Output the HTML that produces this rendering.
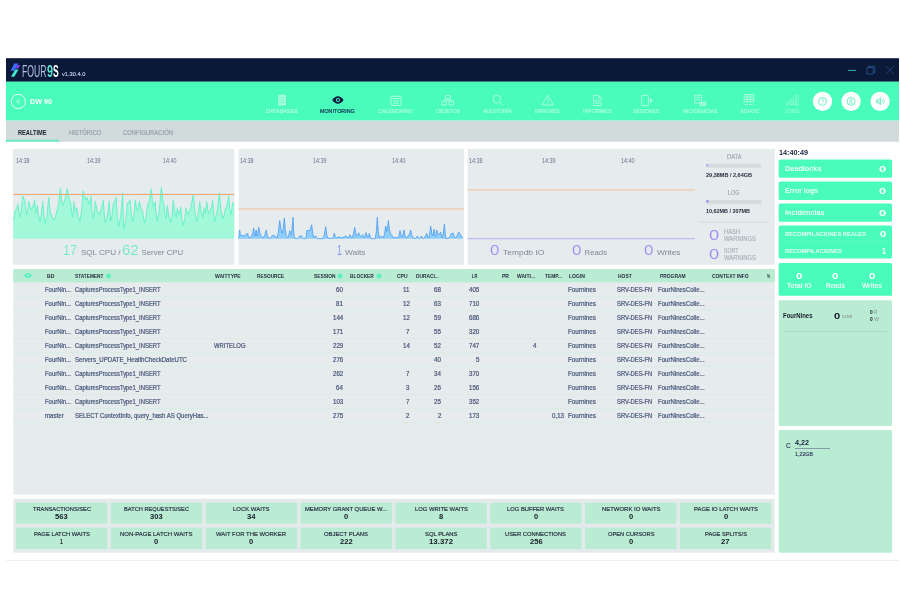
<!DOCTYPE html>
<html lang="es"><head><meta charset="utf-8"><title>FOUR9S - Monitoring</title>
<style>
html,body{margin:0;padding:0;background:#fff;}
body{width:900px;height:600px;overflow:hidden;position:relative;font-family:"Liberation Sans",sans-serif;}
.b{position:absolute;}
.t{position:absolute;white-space:nowrap;line-height:1;transform-origin:0 0;display:block;}
svg{position:absolute;left:0;top:0;overflow:visible;}
#app{position:absolute;left:0;top:0;width:900px;height:600px;filter:blur(0.45px);}
</style></head><body><div id="app">
<svg width="900" height="600" viewBox="0 0 900 600">
<rect x="6" y="560.1" width="893" height="1.0" fill="#eceeef"/>
<rect x="6" y="58.2" width="893" height="23.6" fill="#0b1939"/>
<rect x="6" y="81.7" width="893" height="39.0" fill="#4afcbb"/>
<rect x="6" y="120.6" width="893" height="21.2" fill="#d1dbdc"/>
<rect x="6" y="139.7" width="53" height="2.1" fill="#6feac2"/>
<rect x="13" y="149" width="221.4" height="115.8" fill="#e6ecee"/>
<rect x="238.6" y="149" width="225.4" height="115.8" fill="#e6ecee"/>
<rect x="467.6" y="149" width="307.2" height="115.8" fill="#e6ecee"/>
<rect x="13.3" y="269" width="761.5" height="225.6" fill="#e6ecee"/>
<rect x="13.3" y="269" width="761.5" height="13.3" fill="#baebd3"/>
<rect x="13.3" y="295.9" width="761.5" height="0.8" fill="#d3ede3"/>
<rect x="13.3" y="309.9" width="761.5" height="0.8" fill="#d3ede3"/>
<rect x="13.3" y="323.9" width="761.5" height="0.8" fill="#d3ede3"/>
<rect x="13.3" y="337.9" width="761.5" height="0.8" fill="#d3ede3"/>
<rect x="13.3" y="351.9" width="761.5" height="0.8" fill="#d3ede3"/>
<rect x="13.3" y="365.9" width="761.5" height="0.8" fill="#d3ede3"/>
<rect x="13.3" y="379.9" width="761.5" height="0.8" fill="#d3ede3"/>
<rect x="13.3" y="393.9" width="761.5" height="0.8" fill="#d3ede3"/>
<rect x="13.3" y="407.9" width="761.5" height="0.8" fill="#d3ede3"/>
<rect x="13.3" y="421.9" width="761.5" height="0.8" fill="#d3ede3"/>
<rect x="13.5" y="498.7" width="761.3" height="53.9" fill="#e4eaec"/>
<rect x="16.0" y="502.7" width="91.3" height="21.0" fill="#baebd3"/>
<rect x="110.86" y="502.7" width="91.3" height="21.0" fill="#baebd3"/>
<rect x="205.72" y="502.7" width="91.3" height="21.0" fill="#baebd3"/>
<rect x="300.58" y="502.7" width="91.3" height="21.0" fill="#baebd3"/>
<rect x="395.44" y="502.7" width="91.3" height="21.0" fill="#baebd3"/>
<rect x="490.3" y="502.7" width="91.3" height="21.0" fill="#baebd3"/>
<rect x="585.16" y="502.7" width="91.3" height="21.0" fill="#baebd3"/>
<rect x="680.02" y="502.7" width="91.3" height="21.0" fill="#baebd3"/>
<rect x="16.0" y="527.7" width="91.3" height="21.3" fill="#baebd3"/>
<rect x="110.86" y="527.7" width="91.3" height="21.3" fill="#baebd3"/>
<rect x="205.72" y="527.7" width="91.3" height="21.3" fill="#baebd3"/>
<rect x="300.58" y="527.7" width="91.3" height="21.3" fill="#baebd3"/>
<rect x="395.44" y="527.7" width="91.3" height="21.3" fill="#baebd3"/>
<rect x="490.3" y="527.7" width="91.3" height="21.3" fill="#baebd3"/>
<rect x="585.16" y="527.7" width="91.3" height="21.3" fill="#baebd3"/>
<rect x="680.02" y="527.7" width="91.3" height="21.3" fill="#baebd3"/>
<rect x="778.7" y="159.5" width="113.3" height="18.3" rx="1.5" fill="#4afcbb"/>
<rect x="778.7" y="181.6" width="113.3" height="18.4" rx="1.5" fill="#4afcbb"/>
<rect x="778.7" y="203.6" width="113.3" height="18.1" rx="1.5" fill="#4afcbb"/>
<rect x="778.7" y="225.4" width="113.3" height="33.2" rx="1.5" fill="#4afcbb"/>
<rect x="778.7" y="263" width="113.3" height="32.8" rx="1.5" fill="#4afcbb"/>
<rect x="778.7" y="300.2" width="113.3" height="125.9" rx="1.5" fill="#baebd3"/>
<rect x="778.7" y="430.1" width="113.4" height="122.6" rx="1.5" fill="#baebd3"/>
</svg>
<svg width="900" height="600" viewBox="0 0 900 600"><polygon points="13.2,238.7 13.2,220.0 14.3,217.0 15.3,210.7 16.7,208.5 18.0,204.0 19.0,213.1 20.0,217.3 21.3,210.5 22.7,196.0 23.7,198.7 24.7,200.0 25.7,210.0 26.7,214.7 27.7,210.4 28.7,201.3 30.0,206.8 31.3,209.3 32.0,208.5 32.7,206.7 33.7,204.5 34.7,200.0 35.3,209.1 36.0,213.3 36.7,210.8 37.3,205.3 38.7,216.2 40.0,221.3 41.3,214.9 42.7,201.3 44.0,216.7 45.3,224.0 47.0,215.5 48.7,197.3 49.7,208.2 50.7,213.3 52.3,217.9 54.0,220.0 55.3,217.4 56.7,212.0 58.5,204.3 60.4,188.0 61.5,199.8 62.7,205.3 65.0,200.0 67.3,188.7 69.0,198.2 70.7,202.7 71.7,212.6 72.7,217.3 73.3,212.2 74.0,201.3 74.7,207.7 75.3,210.7 76.0,209.8 76.7,208.0 78.3,217.1 80.0,221.3 81.5,211.5 83.1,190.7 84.5,197.0 86.0,200.0 86.7,199.1 87.3,197.3 88.3,201.9 89.3,204.0 90.1,201.4 90.9,196.0 92.1,211.4 93.3,218.7 94.3,213.1 95.3,201.3 97.0,210.4 98.7,214.7 101.0,210.0 103.3,200.0 104.3,215.4 105.3,222.7 107.3,215.8 109.3,201.3 110.0,214.9 110.7,221.3 112.0,215.8 113.3,204.0 114.7,201.9 116.0,197.3 117.3,217.3 118.7,226.7 120.7,216.0 122.7,193.3 123.3,217.8 124.0,229.3 125.7,221.2 127.3,204.0 128.7,202.7 130.0,200.0 131.3,214.5 132.7,221.3 134.0,214.5 135.3,200.0 136.3,207.3 137.3,210.7 138.3,207.7 139.3,201.3 141.0,208.6 142.7,212.0 143.7,219.3 144.7,222.7 146.0,217.5 147.3,206.7 149.3,200.9 151.3,188.7 152.3,200.9 153.3,206.7 154.3,205.0 155.3,201.3 156.3,214.9 157.3,221.3 159.3,210.5 161.3,187.3 162.7,199.6 164.0,205.3 165.0,214.4 166.0,218.7 166.7,214.4 167.3,205.3 169.0,217.1 170.7,222.7 172.0,215.4 173.3,200.0 174.7,211.8 176.0,217.3 176.7,214.3 177.3,208.0 178.3,212.5 179.3,214.7 180.0,212.1 180.7,206.7 182.0,219.4 183.3,225.3 184.7,219.8 186.0,208.0 187.0,212.5 188.0,214.7 190.7,208.3 193.3,194.7 195.0,212.8 196.7,221.3 198.2,214.9 199.7,201.3 201.2,212.2 202.7,217.3 203.3,214.3 204.0,208.0 204.7,211.6 205.3,213.3 206.0,209.5 206.7,201.3 207.7,209.5 208.7,213.3 209.7,212.1 210.7,209.3 211.7,206.3 212.7,200.0 213.7,214.5 214.7,221.3 217.0,212.2 219.3,192.7 221.0,210.3 222.7,218.7 224.0,215.7 225.3,209.3 227.0,205.1 228.7,196.0 229.7,208.7 230.7,214.7 231.7,210.8 232.7,202.7 234.0,204.0 234.3,204.0 234.3,238.7" fill="#a2f9da"/><polyline points="13.2,220.0 14.3,217.0 15.3,210.7 16.7,208.5 18.0,204.0 19.0,213.1 20.0,217.3 21.3,210.5 22.7,196.0 23.7,198.7 24.7,200.0 25.7,210.0 26.7,214.7 27.7,210.4 28.7,201.3 30.0,206.8 31.3,209.3 32.0,208.5 32.7,206.7 33.7,204.5 34.7,200.0 35.3,209.1 36.0,213.3 36.7,210.8 37.3,205.3 38.7,216.2 40.0,221.3 41.3,214.9 42.7,201.3 44.0,216.7 45.3,224.0 47.0,215.5 48.7,197.3 49.7,208.2 50.7,213.3 52.3,217.9 54.0,220.0 55.3,217.4 56.7,212.0 58.5,204.3 60.4,188.0 61.5,199.8 62.7,205.3 65.0,200.0 67.3,188.7 69.0,198.2 70.7,202.7 71.7,212.6 72.7,217.3 73.3,212.2 74.0,201.3 74.7,207.7 75.3,210.7 76.0,209.8 76.7,208.0 78.3,217.1 80.0,221.3 81.5,211.5 83.1,190.7 84.5,197.0 86.0,200.0 86.7,199.1 87.3,197.3 88.3,201.9 89.3,204.0 90.1,201.4 90.9,196.0 92.1,211.4 93.3,218.7 94.3,213.1 95.3,201.3 97.0,210.4 98.7,214.7 101.0,210.0 103.3,200.0 104.3,215.4 105.3,222.7 107.3,215.8 109.3,201.3 110.0,214.9 110.7,221.3 112.0,215.8 113.3,204.0 114.7,201.9 116.0,197.3 117.3,217.3 118.7,226.7 120.7,216.0 122.7,193.3 123.3,217.8 124.0,229.3 125.7,221.2 127.3,204.0 128.7,202.7 130.0,200.0 131.3,214.5 132.7,221.3 134.0,214.5 135.3,200.0 136.3,207.3 137.3,210.7 138.3,207.7 139.3,201.3 141.0,208.6 142.7,212.0 143.7,219.3 144.7,222.7 146.0,217.5 147.3,206.7 149.3,200.9 151.3,188.7 152.3,200.9 153.3,206.7 154.3,205.0 155.3,201.3 156.3,214.9 157.3,221.3 159.3,210.5 161.3,187.3 162.7,199.6 164.0,205.3 165.0,214.4 166.0,218.7 166.7,214.4 167.3,205.3 169.0,217.1 170.7,222.7 172.0,215.4 173.3,200.0 174.7,211.8 176.0,217.3 176.7,214.3 177.3,208.0 178.3,212.5 179.3,214.7 180.0,212.1 180.7,206.7 182.0,219.4 183.3,225.3 184.7,219.8 186.0,208.0 187.0,212.5 188.0,214.7 190.7,208.3 193.3,194.7 195.0,212.8 196.7,221.3 198.2,214.9 199.7,201.3 201.2,212.2 202.7,217.3 203.3,214.3 204.0,208.0 204.7,211.6 205.3,213.3 206.0,209.5 206.7,201.3 207.7,209.5 208.7,213.3 209.7,212.1 210.7,209.3 211.7,206.3 212.7,200.0 213.7,214.5 214.7,221.3 217.0,212.2 219.3,192.7 221.0,210.3 222.7,218.7 224.0,215.7 225.3,209.3 227.0,205.1 228.7,196.0 229.7,208.7 230.7,214.7 231.7,210.8 232.7,202.7 234.0,204.0 234.3,204.0" fill="none" stroke="#6cf2c8" stroke-width="1.05" stroke-linejoin="round"/><rect x="13" y="193.9" width="221.5" height="1" fill="#f2a46a"/><polygon points="238.6,238.7 238.6,238.7 239.7,230.0 240.3,233.6 241.0,235.3 244.3,236.0 246.3,234.0 247.7,233.3 248.3,236.5 249.0,238.0 251.7,236.0 252.7,233.4 253.7,228.0 254.3,233.4 255.0,236.0 256.1,230.0 257.0,236.0 257.9,233.2 258.7,227.3 259.9,233.2 261.0,236.0 263.0,238.0 264.7,235.4 266.3,230.0 267.3,235.4 268.3,238.0 270.3,238.0 271.3,237.1 272.3,235.3 275.0,236.0 277.0,238.0 278.3,232.5 279.7,220.7 281.0,229.3 282.3,233.3 283.3,228.4 284.3,218.0 285.3,229.8 286.3,235.3 287.0,237.1 287.7,238.0 288.7,235.7 289.7,230.7 290.3,233.4 291.0,234.7 292.0,229.1 293.0,217.3 293.7,231.4 294.3,238.0 297.7,238.7 298.7,237.8 299.7,236.0 301.7,236.0 302.3,237.8 303.0,238.7 305.7,238.7 306.3,235.9 307.0,230.0 309.0,231.3 310.3,229.2 311.7,224.7 312.7,233.3 313.7,237.3 315.7,236.0 316.7,237.8 317.7,238.7 323.0,238.7 324.3,234.8 325.7,226.7 326.7,234.4 327.7,238.0 332.3,238.7 333.3,237.0 334.3,233.3 335.3,236.5 336.3,238.0 339.0,236.7 341.7,238.0 345.7,236.0 348.3,238.0 349.2,236.9 350.0,234.7 351.0,236.9 352.0,238.0 353.3,234.6 354.7,227.3 355.7,233.2 356.7,236.0 357.7,234.9 358.7,232.7 359.7,235.4 360.7,236.7 362.7,234.7 363.3,236.9 364.0,238.0 365.0,236.3 366.0,232.7 367.0,235.8 368.0,237.3 368.7,236.1 369.3,233.3 370.3,237.0 371.3,238.7 375.3,238.7 376.3,231.8 377.3,217.3 378.3,231.4 379.3,238.0 381.3,236.0 383.3,238.0 384.5,234.2 385.7,226.0 386.7,231.3 387.5,227.9 388.4,220.7 389.2,228.4 390.0,232.0 391.0,234.3 392.0,235.3 393.0,237.1 394.0,238.0 396.0,237.3 398.0,238.0 399.0,235.7 400.0,230.7 401.0,235.2 402.0,237.3 403.0,235.0 404.0,230.0 405.0,235.4 406.0,238.0 407.3,237.1 408.7,235.3 409.7,233.6 410.7,230.0 411.7,235.0 412.7,237.3 415.3,238.7 416.3,237.8 417.3,236.0 418.3,237.8 419.3,238.7 420.3,237.8 421.3,236.0 422.3,237.8 423.3,238.7 425.0,237.0 426.7,233.3 427.7,236.5 428.7,238.0 429.7,234.2 430.7,226.0 431.7,232.8 432.7,236.0 433.3,233.9 434.0,229.3 434.7,234.3 435.3,236.7 436.0,234.5 436.7,230.0 437.7,233.2 438.7,234.7 439.7,233.8 440.7,232.0 441.5,236.1 442.3,238.0 443.3,233.5 444.4,224.0 445.2,234.0 446.0,238.7 448.7,238.0 450.0,236.5 451.3,233.3 453.3,233.3 454.3,236.5 455.3,238.0 457.0,236.1 458.7,232.0 459.7,233.8 460.7,234.7 461.7,236.9 462.7,238.0 462.7,238.7" fill="#8ecdf9"/><polyline points="238.6,238.7 239.7,230.0 240.3,233.6 241.0,235.3 244.3,236.0 246.3,234.0 247.7,233.3 248.3,236.5 249.0,238.0 251.7,236.0 252.7,233.4 253.7,228.0 254.3,233.4 255.0,236.0 256.1,230.0 257.0,236.0 257.9,233.2 258.7,227.3 259.9,233.2 261.0,236.0 263.0,238.0 264.7,235.4 266.3,230.0 267.3,235.4 268.3,238.0 270.3,238.0 271.3,237.1 272.3,235.3 275.0,236.0 277.0,238.0 278.3,232.5 279.7,220.7 281.0,229.3 282.3,233.3 283.3,228.4 284.3,218.0 285.3,229.8 286.3,235.3 287.0,237.1 287.7,238.0 288.7,235.7 289.7,230.7 290.3,233.4 291.0,234.7 292.0,229.1 293.0,217.3 293.7,231.4 294.3,238.0 297.7,238.7 298.7,237.8 299.7,236.0 301.7,236.0 302.3,237.8 303.0,238.7 305.7,238.7 306.3,235.9 307.0,230.0 309.0,231.3 310.3,229.2 311.7,224.7 312.7,233.3 313.7,237.3 315.7,236.0 316.7,237.8 317.7,238.7 323.0,238.7 324.3,234.8 325.7,226.7 326.7,234.4 327.7,238.0 332.3,238.7 333.3,237.0 334.3,233.3 335.3,236.5 336.3,238.0 339.0,236.7 341.7,238.0 345.7,236.0 348.3,238.0 349.2,236.9 350.0,234.7 351.0,236.9 352.0,238.0 353.3,234.6 354.7,227.3 355.7,233.2 356.7,236.0 357.7,234.9 358.7,232.7 359.7,235.4 360.7,236.7 362.7,234.7 363.3,236.9 364.0,238.0 365.0,236.3 366.0,232.7 367.0,235.8 368.0,237.3 368.7,236.1 369.3,233.3 370.3,237.0 371.3,238.7 375.3,238.7 376.3,231.8 377.3,217.3 378.3,231.4 379.3,238.0 381.3,236.0 383.3,238.0 384.5,234.2 385.7,226.0 386.7,231.3 387.5,227.9 388.4,220.7 389.2,228.4 390.0,232.0 391.0,234.3 392.0,235.3 393.0,237.1 394.0,238.0 396.0,237.3 398.0,238.0 399.0,235.7 400.0,230.7 401.0,235.2 402.0,237.3 403.0,235.0 404.0,230.0 405.0,235.4 406.0,238.0 407.3,237.1 408.7,235.3 409.7,233.6 410.7,230.0 411.7,235.0 412.7,237.3 415.3,238.7 416.3,237.8 417.3,236.0 418.3,237.8 419.3,238.7 420.3,237.8 421.3,236.0 422.3,237.8 423.3,238.7 425.0,237.0 426.7,233.3 427.7,236.5 428.7,238.0 429.7,234.2 430.7,226.0 431.7,232.8 432.7,236.0 433.3,233.9 434.0,229.3 434.7,234.3 435.3,236.7 436.0,234.5 436.7,230.0 437.7,233.2 438.7,234.7 439.7,233.8 440.7,232.0 441.5,236.1 442.3,238.0 443.3,233.5 444.4,224.0 445.2,234.0 446.0,238.7 448.7,238.0 450.0,236.5 451.3,233.3 453.3,233.3 454.3,236.5 455.3,238.0 457.0,236.1 458.7,232.0 459.7,233.8 460.7,234.7 461.7,236.9 462.7,238.0" fill="none" stroke="#4f9ff2" stroke-width="0.85" stroke-linejoin="round"/><rect x="238.5" y="208.400" width="225.5" height="1.1" fill="#f1c4a2"/><rect x="467.6" y="189.3" width="227.4" height="1.1" fill="#f2c4a0"/><rect x="467.6" y="238.3" width="227.4" height="0.9" fill="#b5a3f4"/></svg>
<svg width="900" height="600" viewBox="0 0 900 600" fill="none"><polygon points="14.4,63.4 18.1,63.4 14.2,70.8 10.5,70.8" fill="#3f6ef6"/><polygon points="17.2,65 20.2,65 18.3,68.4 15.4,68.4" fill="#7a3ff5"/><polygon points="15.2,69.6 18.5,69.6 14.3,76.8 11,76.8" fill="#3fe9c9"/><rect x="848" y="69.9" width="8.2" height="0.9" fill="#3dbdb3"/><path d="M866.9 67.6h6.4v6.4h-6.4z M868.4 67.6v-1.3h6.4v6.4h-1.5" stroke="#2b5c9d" stroke-width="0.75"/><path d="M886.2 66.2l7.6 7.6M893.8 66.2l-7.6 7.6" stroke="#214679" stroke-width="0.75"/><circle cx="18.3" cy="101.5" r="7.1" stroke="#ffffff" stroke-opacity="0.9" stroke-width="1"/><path d="M19.6 99.500l-2.900 2 2.900 2" stroke="#ffffff" stroke-opacity="0.85" stroke-width="0.9"/><g stroke="#ffffff" stroke-width="0.9" opacity="0.56"><rect x="278.2" y="94.8" width="7.8" height="10.8" rx="1.6" fill="#ffffff" stroke="none"/><path d="M279 97.9h6.2M279 100.3h6.2M279 102.7h6.2" stroke="#4afcbb" stroke-width="0.7"/><rect x="390.8" y="96.4" width="10.2" height="9" rx="1.2"/><path d="M390.8 98.6h10.2M393 101h5.8M393 103.2h5.8M393.4 95.3v1.6M398.4 95.3v1.6"/><path d="M445.4 95.6h5v3.2h-5zM442 101.4h4.6v3.600h-4.6zM449.2 101.4h4.6v3.600h-4.6zM447.9 98.8v1.300M444.300 101.4v-1.300h7.200v1.300"/><circle cx="496.9" cy="99.2" r="3.9"/><path d="M499.8 102.2l3.3 3.3"/><path d="M547.7 95.2l5.6 9.8h-11.2zM547.7 98.6v3.4M547.7 103v0.8" stroke-linejoin="round"/><path d="M593.6 95.4h5l2.6 2.6v7.6h-7.6zM598.6 95.4v2.6h2.6M595.6 100.2h3.4v3.2h-3.4z"/><path d="M641.6 95.4h6.8v10.2h-6.8z"/><path d="M650.2 98.6l2 1.9-2 1.9z" fill="#ffffff"/><path d="M694.8 95.2h6.8v8h-6.8zM696.2 97.4h4M696.2 99.6h4"/><path d="M700 102.2h5.8v3.4h-5.8z" fill="#ffffff" fill-opacity="0.6"/><path d="M744.2 94.6h9.6v7.4h-9.6zM744.2 97h9.6M744.2 99.4h9.6M747.4 94.6v7.4M750.6 94.6v7.4M744.6 104.6h3M749 104.6h3.2M753.6 104.6h0.9"/></g><g stroke="#ffffff" stroke-width="0.8" opacity="0.35"><path d="M786.6 102.4h2.2v2.6h-2.2zM790 100.2h2v4.8h-2zM793.2 97.6h2v7.4h-2zM796.4 95.2h1.8v9.8h-1.8z"/></g><path d="M332.3 100c1.6-2.6 3.6-3.8 5.6-3.8s4 1.2 5.6 3.8c-1.6 2.6-3.6 3.8-5.6 3.8s-4-1.2-5.6-3.8z" fill="#0d1b3e"/><circle cx="337.9" cy="100" r="2.1" fill="#58e8c0"/><circle cx="337.9" cy="100" r="1.1" fill="#0d1b3e"/><circle cx="822.5" cy="101.4" r="9.6" fill="#ffffff"/><circle cx="851.1" cy="101.4" r="9.6" fill="#ffffff"/><circle cx="880.1" cy="101.4" r="9.6" fill="#ffffff"/><circle cx="822.5" cy="101.4" r="4" stroke="#52e6ba" stroke-width="0.8"/><path d="M821.3 100.4c0-1.6 2.4-1.6 2.4 0 0 0.9-1.2 0.9-1.2 2M822.5 103.4v0.5" stroke="#52e6ba" stroke-width="0.7"/><circle cx="851.1" cy="101.4" r="4" stroke="#52e6ba" stroke-width="0.8"/><circle cx="851.1" cy="100.4" r="1.3" stroke="#52e6ba" stroke-width="0.7"/><path d="M848.9 104c0.5-1.6 3.9-1.6 4.4 0" stroke="#52e6ba" stroke-width="0.7"/><path d="M876.4 100.1h1.7l2.4-2v6.600l-2.4-2h-1.7z" stroke="#52e6ba" stroke-width="0.7" fill="#52e6ba" fill-opacity="0.35"/><path d="M881.8 99.6c1 1 1 2.6 0 3.6M883 98.6c1.6 1.6 1.6 4 0 5.6" stroke="#52e6ba" stroke-width="0.6"/><rect x="705.5" y="163.6" width="56" height="4.2" rx="2.1" fill="#d4dcde"/><circle cx="707.4" cy="165.2" r="1.2" fill="#b9a9f5"/><rect x="706" y="200" width="56" height="4.2" rx="2.1" fill="#d4dcde"/><circle cx="707.4" cy="201.3" r="1.2" fill="#9c84f3"/><rect x="699" y="221.8" width="70" height="0.7" fill="#cdd5d8"/><path d="M24 275.6c1.2-1.8 2.6-2.6 4-2.6s2.8 0.8 4 2.6c-1.2 1.8-2.6 2.6-4 2.6s-2.800-0.800-4-2.600z" fill="#5df0c0"/><circle cx="28" cy="275.600" r="1" fill="#b9ead4"/><circle cx="108.5" cy="276" r="2.5" fill="#5df0c0"/><circle cx="340" cy="276" r="2.5" fill="#5df0c0"/><circle cx="379" cy="276" r="2.5" fill="#5df0c0"/><rect x="784.500" y="241.500" width="102" height="0.5" fill="#ffffff" fill-opacity="0.18"/><rect x="784" y="331.200" width="103" height="0.6" fill="#9fcdb9"/><rect x="795" y="448.400" width="35" height="0.600" fill="#5b6b86"/></svg>
<span class="t" style="left:22.00px;top:63.00px;font-size:16.5px;color:#b4c0e2;transform:scaleX(0.5219);">FOUR</span>
<span class="t" style="left:46.80px;top:63.00px;font-size:16.5px;color:#5fe6d2;font-weight:700;transform:scaleX(0.6531);">9</span>
<span class="t" style="left:53.30px;top:63.00px;font-size:16.5px;color:#ffffff;font-weight:700;transform:scaleX(0.5174);">S</span>
<span class="t" style="left:61.70px;top:72.00px;font-size:5.9px;color:#b6c0e0;transform:scaleX(0.9608);-webkit-text-stroke:0.22px #b6c0e0;">v1.30.4.0</span>
<span class="t" style="left:30.00px;top:98.00px;font-size:7.3px;color:#ffffff;font-weight:700;transform:scaleX(0.9860);">DW 90</span>
<span class="t" style="left:266.00px;top:109.00px;font-size:5.6px;color:#ffffff;opacity:0.67;transform:scaleX(0.9679);-webkit-text-stroke:0.08px #fff;">DATABASES</span>
<span class="t" style="left:320.30px;top:109.00px;font-size:5.6px;color:#10254c;transform:scaleX(0.9568);-webkit-text-stroke:0.16px #10254c;">MONITORING</span>
<span class="t" style="left:378.00px;top:109.00px;font-size:5.6px;color:#ffffff;opacity:0.6000000000000001;transform:scaleX(0.9622);-webkit-text-stroke:0.08px #fff;">CALENDARIO</span>
<span class="t" style="left:435.70px;top:109.00px;font-size:5.6px;color:#ffffff;opacity:0.6000000000000001;transform:scaleX(0.9341);-webkit-text-stroke:0.08px #fff;">OBJETOS</span>
<span class="t" style="left:483.30px;top:109.00px;font-size:5.6px;color:#ffffff;opacity:0.6000000000000001;transform:scaleX(0.9453);-webkit-text-stroke:0.08px #fff;">AUDITORÍA</span>
<span class="t" style="left:535.00px;top:109.00px;font-size:5.6px;color:#ffffff;opacity:0.6000000000000001;transform:scaleX(0.8926);-webkit-text-stroke:0.08px #fff;">ERRORES</span>
<span class="t" style="left:582.70px;top:109.00px;font-size:5.6px;color:#ffffff;opacity:0.6000000000000001;transform:scaleX(0.9685);-webkit-text-stroke:0.08px #fff;">INFORMES</span>
<span class="t" style="left:633.40px;top:109.00px;font-size:5.6px;color:#ffffff;opacity:0.6000000000000001;transform:scaleX(0.9193);-webkit-text-stroke:0.08px #fff;">SESIONES</span>
<span class="t" style="left:682.70px;top:109.00px;font-size:5.6px;color:#ffffff;opacity:0.6000000000000001;transform:scaleX(0.9622);-webkit-text-stroke:0.08px #fff;">INCIDENCIAS</span>
<span class="t" style="left:740.00px;top:109.00px;font-size:5.6px;color:#ffffff;opacity:0.6000000000000001;transform:scaleX(0.9553);-webkit-text-stroke:0.08px #fff;">ADHOC</span>
<span class="t" style="left:784.70px;top:109.00px;font-size:5.6px;color:#ffffff;opacity:0.39999999999999997;-webkit-text-stroke:0.08px #fff;">JOBS</span>
<span class="t" style="left:18.00px;top:130.00px;font-size:6.6px;color:#1d2230;font-weight:700;transform:scaleX(0.8579);">REALTIME</span>
<span class="t" style="left:68.80px;top:130.00px;font-size:6.6px;color:#98a2ab;transform:scaleX(0.8843);-webkit-text-stroke:0.22px #98a2ab;">HISTÓRICO</span>
<span class="t" style="left:123.00px;top:130.00px;font-size:6.6px;color:#98a2ab;transform:scaleX(0.8921);-webkit-text-stroke:0.22px #98a2ab;">CONFIGURACIÓN</span>
<span class="t" style="left:15.50px;top:158.00px;font-size:6.4px;color:#69738a;transform:scaleX(0.8500);-webkit-text-stroke:0;">14:38</span>
<span class="t" style="left:86.70px;top:158.00px;font-size:6.4px;color:#69738a;transform:scaleX(0.8500);-webkit-text-stroke:0;">14:39</span>
<span class="t" style="left:163.00px;top:158.00px;font-size:6.4px;color:#69738a;transform:scaleX(0.8500);-webkit-text-stroke:0;">14:40</span>
<span class="t" style="left:239.60px;top:158.00px;font-size:6.4px;color:#69738a;transform:scaleX(0.8500);-webkit-text-stroke:0;">14:38</span>
<span class="t" style="left:313.20px;top:158.00px;font-size:6.4px;color:#69738a;transform:scaleX(0.8500);-webkit-text-stroke:0;">14:39</span>
<span class="t" style="left:392.00px;top:158.00px;font-size:6.4px;color:#69738a;transform:scaleX(0.8500);-webkit-text-stroke:0;">14:40</span>
<span class="t" style="left:469.30px;top:158.00px;font-size:6.4px;color:#69738a;transform:scaleX(0.8500);-webkit-text-stroke:0;">14:38</span>
<span class="t" style="left:542.00px;top:158.00px;font-size:6.4px;color:#69738a;transform:scaleX(0.8500);-webkit-text-stroke:0;">14:39</span>
<span class="t" style="left:620.80px;top:158.00px;font-size:6.4px;color:#69738a;transform:scaleX(0.8500);-webkit-text-stroke:0;">14:40</span>
<span class="t" style="left:63.30px;top:243.00px;font-size:14.5px;color:#6deac6;transform:scaleX(0.8674);-webkit-text-stroke:0.08px #e6ecee;">17</span>
<span class="t" style="left:80.50px;top:249.00px;font-size:7.8px;color:#7c8792;transform:scaleX(1.0318);-webkit-text-stroke:0;">SQL CPU /</span>
<span class="t" style="left:121.80px;top:243.00px;font-size:14.5px;color:#6deac6;transform:scaleX(1.0285);-webkit-text-stroke:0.08px #e6ecee;">62</span>
<span class="t" style="left:141.50px;top:249.00px;font-size:7.8px;color:#7c8792;-webkit-text-stroke:0;">Server CPU</span>
<span class="t" style="left:336.60px;top:243.00px;font-size:14.5px;color:#8c9cf4;transform:scaleX(0.6190);-webkit-text-stroke:0.05px #8c9cf4;">1</span>
<span class="t" style="left:344.50px;top:249.00px;font-size:7.8px;color:#7c8792;transform:scaleX(1.0675);-webkit-text-stroke:0;">Waits</span>
<span class="t" style="left:490.40px;top:243.00px;font-size:14.5px;color:#a18cf2;transform:scaleX(1.1636);-webkit-text-stroke:0.1px #e6ecee;">0</span>
<span class="t" style="left:502.70px;top:249.00px;font-size:7.8px;color:#7c8792;transform:scaleX(1.0828);-webkit-text-stroke:0;">Tempdb IO</span>
<span class="t" style="left:571.90px;top:243.00px;font-size:14.5px;color:#a18cf2;transform:scaleX(1.1636);-webkit-text-stroke:0.1px #e6ecee;">0</span>
<span class="t" style="left:584.50px;top:249.00px;font-size:7.8px;color:#7c8792;-webkit-text-stroke:0;">Reads</span>
<span class="t" style="left:643.90px;top:243.00px;font-size:14.5px;color:#a18cf2;transform:scaleX(1.1636);-webkit-text-stroke:0.1px #e6ecee;">0</span>
<span class="t" style="left:656.50px;top:249.00px;font-size:7.8px;color:#7c8792;transform:scaleX(1.0705);-webkit-text-stroke:0;">Writes</span>
<span class="t" style="left:727.00px;top:153.00px;font-size:7px;color:#939ca6;transform:scaleX(0.8220);-webkit-text-stroke:0.08px #939ca6;">DATA</span>
<span class="t" style="left:706.00px;top:172.00px;font-size:6.2px;color:#252b3a;font-weight:700;transform:scaleX(0.8916);">29,38MB / 2,64GB</span>
<span class="t" style="left:728.00px;top:189.00px;font-size:7px;color:#939ca6;transform:scaleX(0.7772);-webkit-text-stroke:0.08px #939ca6;">LOG</span>
<span class="t" style="left:706.00px;top:208.00px;font-size:6.2px;color:#252b3a;font-weight:700;transform:scaleX(0.8762);">10,62MB / 307MB</span>
<span class="t" style="left:708.90px;top:227.00px;font-size:15.5px;color:#a18cf2;transform:scaleX(1.1826);-webkit-text-stroke:0.1px #e6ecee;">0</span>
<span class="t" style="left:724.00px;top:229.00px;font-size:6.6px;color:#9fa8b0;transform:scaleX(0.8730);-webkit-text-stroke:0.06px #9fa8b0;">HASH</span>
<span class="t" style="left:724.00px;top:236.00px;font-size:6.6px;color:#9fa8b0;transform:scaleX(0.8881);-webkit-text-stroke:0.06px #9fa8b0;">WARNINGS</span>
<span class="t" style="left:708.90px;top:246.00px;font-size:15.5px;color:#a18cf2;transform:scaleX(1.1826);-webkit-text-stroke:0.1px #e6ecee;">0</span>
<span class="t" style="left:724.00px;top:248.00px;font-size:6.6px;color:#9fa8b0;transform:scaleX(0.7966);-webkit-text-stroke:0.06px #9fa8b0;">SORT</span>
<span class="t" style="left:724.00px;top:255.00px;font-size:6.6px;color:#9fa8b0;transform:scaleX(0.8881);-webkit-text-stroke:0.06px #9fa8b0;">WARNINGS</span>
<span class="t" style="left:46.50px;top:273.00px;font-size:6.1px;color:#252c3d;font-weight:700;transform:scaleX(0.8511);">BD</span>
<span class="t" style="left:74.50px;top:273.00px;font-size:6.1px;color:#252c3d;font-weight:700;transform:scaleX(0.7842);">STATEMENT</span>
<span class="t" style="left:215.30px;top:273.00px;font-size:6.1px;color:#252c3d;font-weight:700;transform:scaleX(0.8249);">WAITTYPE</span>
<span class="t" style="left:257.20px;top:273.00px;font-size:6.1px;color:#252c3d;font-weight:700;transform:scaleX(0.7902);">RESOURCE</span>
<span class="t" style="left:313.60px;top:273.00px;font-size:6.1px;color:#252c3d;font-weight:700;transform:scaleX(0.7899);">SESSION</span>
<span class="t" style="left:349.70px;top:273.00px;font-size:6.1px;color:#252c3d;font-weight:700;transform:scaleX(0.7896);">BLOCKER</span>
<span class="t" style="left:397.40px;top:273.00px;font-size:6.1px;color:#252c3d;font-weight:700;transform:scaleX(0.8233);">CPU</span>
<span class="t" style="left:416.20px;top:273.00px;font-size:6.1px;color:#252c3d;font-weight:700;transform:scaleX(0.7922);">DURACI...</span>
<span class="t" style="left:472.00px;top:273.00px;font-size:6.1px;color:#252c3d;font-weight:700;transform:scaleX(0.6523);">LR</span>
<span class="t" style="left:501.70px;top:273.00px;font-size:6.1px;color:#252c3d;font-weight:700;transform:scaleX(0.8266);">PR</span>
<span class="t" style="left:517.30px;top:273.00px;font-size:6.1px;color:#252c3d;font-weight:700;transform:scaleX(0.8267);">WAITI...</span>
<span class="t" style="left:545.00px;top:273.00px;font-size:6.1px;color:#252c3d;font-weight:700;transform:scaleX(0.8006);">TEMP...</span>
<span class="t" style="left:569.30px;top:273.00px;font-size:6.1px;color:#252c3d;font-weight:700;transform:scaleX(0.8291);">LOGIN</span>
<span class="t" style="left:618.30px;top:273.00px;font-size:6.1px;color:#252c3d;font-weight:700;transform:scaleX(0.8089);">HOST</span>
<span class="t" style="left:660.00px;top:273.00px;font-size:6.1px;color:#252c3d;font-weight:700;transform:scaleX(0.8012);">PROGRAM</span>
<span class="t" style="left:711.70px;top:273.00px;font-size:6.1px;color:#252c3d;font-weight:700;transform:scaleX(0.8066);">CONTEXT INFO</span>
<span class="t" style="left:767.30px;top:273.00px;font-size:6.1px;color:#252c3d;font-weight:700;transform:scaleX(0.5533);">%</span>
<span class="t" style="left:45.00px;top:287.00px;font-size:6.5px;color:#4b5679;transform:scaleX(0.9108);-webkit-text-stroke:0.22px #4b5679;">FourNin...</span>
<span class="t" style="left:74.50px;top:287.00px;font-size:6.5px;color:#4b5679;transform:scaleX(0.9009);-webkit-text-stroke:0.22px #4b5679;">CapturesProcessType1_INSERT</span>
<span class="t" style="left:336.13px;top:287.00px;font-size:6.5px;color:#4b5679;transform:scaleX(0.9500);-webkit-text-stroke:0.22px #4b5679;">60</span>
<span class="t" style="left:403.39px;top:287.00px;font-size:6.5px;color:#4b5679;transform:scaleX(0.9500);-webkit-text-stroke:0.22px #4b5679;">11</span>
<span class="t" style="left:434.43px;top:287.00px;font-size:6.5px;color:#4b5679;transform:scaleX(0.9500);-webkit-text-stroke:0.22px #4b5679;">68</span>
<span class="t" style="left:469.48px;top:287.00px;font-size:6.5px;color:#4b5679;transform:scaleX(0.9500);-webkit-text-stroke:0.22px #4b5679;">405</span>
<span class="t" style="left:568.00px;top:287.00px;font-size:6.5px;color:#4b5679;transform:scaleX(0.9686);-webkit-text-stroke:0.22px #4b5679;">Fournines</span>
<span class="t" style="left:616.70px;top:287.00px;font-size:6.5px;color:#4b5679;transform:scaleX(0.8994);-webkit-text-stroke:0.22px #4b5679;">SRV-DES-FN</span>
<span class="t" style="left:658.30px;top:287.00px;font-size:6.5px;color:#4b5679;transform:scaleX(0.9299);-webkit-text-stroke:0.22px #4b5679;">FourNinesColle...</span>
<span class="t" style="left:45.00px;top:301.00px;font-size:6.5px;color:#4b5679;transform:scaleX(0.9108);-webkit-text-stroke:0.22px #4b5679;">FourNin...</span>
<span class="t" style="left:74.50px;top:301.00px;font-size:6.5px;color:#4b5679;transform:scaleX(0.9009);-webkit-text-stroke:0.22px #4b5679;">CapturesProcessType1_INSERT</span>
<span class="t" style="left:336.13px;top:301.00px;font-size:6.5px;color:#4b5679;transform:scaleX(0.9500);-webkit-text-stroke:0.22px #4b5679;">81</span>
<span class="t" style="left:402.93px;top:301.00px;font-size:6.5px;color:#4b5679;transform:scaleX(0.9500);-webkit-text-stroke:0.22px #4b5679;">12</span>
<span class="t" style="left:434.43px;top:301.00px;font-size:6.5px;color:#4b5679;transform:scaleX(0.9500);-webkit-text-stroke:0.22px #4b5679;">63</span>
<span class="t" style="left:469.48px;top:301.00px;font-size:6.5px;color:#4b5679;transform:scaleX(0.9500);-webkit-text-stroke:0.22px #4b5679;">710</span>
<span class="t" style="left:568.00px;top:301.00px;font-size:6.5px;color:#4b5679;transform:scaleX(0.9686);-webkit-text-stroke:0.22px #4b5679;">Fournines</span>
<span class="t" style="left:616.70px;top:301.00px;font-size:6.5px;color:#4b5679;transform:scaleX(0.8994);-webkit-text-stroke:0.22px #4b5679;">SRV-DES-FN</span>
<span class="t" style="left:658.30px;top:301.00px;font-size:6.5px;color:#4b5679;transform:scaleX(0.9299);-webkit-text-stroke:0.22px #4b5679;">FourNinesColle...</span>
<span class="t" style="left:45.00px;top:315.00px;font-size:6.5px;color:#4b5679;transform:scaleX(0.9108);-webkit-text-stroke:0.22px #4b5679;">FourNin...</span>
<span class="t" style="left:74.50px;top:315.00px;font-size:6.5px;color:#4b5679;transform:scaleX(0.9009);-webkit-text-stroke:0.22px #4b5679;">CapturesProcessType1_INSERT</span>
<span class="t" style="left:332.68px;top:315.00px;font-size:6.5px;color:#4b5679;transform:scaleX(0.9500);-webkit-text-stroke:0.22px #4b5679;">144</span>
<span class="t" style="left:402.93px;top:315.00px;font-size:6.5px;color:#4b5679;transform:scaleX(0.9500);-webkit-text-stroke:0.22px #4b5679;">12</span>
<span class="t" style="left:434.43px;top:315.00px;font-size:6.5px;color:#4b5679;transform:scaleX(0.9500);-webkit-text-stroke:0.22px #4b5679;">59</span>
<span class="t" style="left:469.48px;top:315.00px;font-size:6.5px;color:#4b5679;transform:scaleX(0.9500);-webkit-text-stroke:0.22px #4b5679;">686</span>
<span class="t" style="left:568.00px;top:315.00px;font-size:6.5px;color:#4b5679;transform:scaleX(0.9686);-webkit-text-stroke:0.22px #4b5679;">Fournines</span>
<span class="t" style="left:616.70px;top:315.00px;font-size:6.5px;color:#4b5679;transform:scaleX(0.8994);-webkit-text-stroke:0.22px #4b5679;">SRV-DES-FN</span>
<span class="t" style="left:658.30px;top:315.00px;font-size:6.5px;color:#4b5679;transform:scaleX(0.9299);-webkit-text-stroke:0.22px #4b5679;">FourNinesColle...</span>
<span class="t" style="left:45.00px;top:329.00px;font-size:6.5px;color:#4b5679;transform:scaleX(0.9108);-webkit-text-stroke:0.22px #4b5679;">FourNin...</span>
<span class="t" style="left:74.50px;top:329.00px;font-size:6.5px;color:#4b5679;transform:scaleX(0.9009);-webkit-text-stroke:0.22px #4b5679;">CapturesProcessType1_INSERT</span>
<span class="t" style="left:332.68px;top:329.00px;font-size:6.5px;color:#4b5679;transform:scaleX(0.9500);-webkit-text-stroke:0.22px #4b5679;">171</span>
<span class="t" style="left:406.36px;top:329.00px;font-size:6.5px;color:#4b5679;transform:scaleX(0.9500);-webkit-text-stroke:0.22px #4b5679;">7</span>
<span class="t" style="left:434.43px;top:329.00px;font-size:6.5px;color:#4b5679;transform:scaleX(0.9500);-webkit-text-stroke:0.22px #4b5679;">55</span>
<span class="t" style="left:469.48px;top:329.00px;font-size:6.5px;color:#4b5679;transform:scaleX(0.9500);-webkit-text-stroke:0.22px #4b5679;">320</span>
<span class="t" style="left:568.00px;top:329.00px;font-size:6.5px;color:#4b5679;transform:scaleX(0.9686);-webkit-text-stroke:0.22px #4b5679;">Fournines</span>
<span class="t" style="left:616.70px;top:329.00px;font-size:6.5px;color:#4b5679;transform:scaleX(0.8994);-webkit-text-stroke:0.22px #4b5679;">SRV-DES-FN</span>
<span class="t" style="left:658.30px;top:329.00px;font-size:6.5px;color:#4b5679;transform:scaleX(0.9299);-webkit-text-stroke:0.22px #4b5679;">FourNinesColle...</span>
<span class="t" style="left:45.00px;top:343.00px;font-size:6.5px;color:#4b5679;transform:scaleX(0.9108);-webkit-text-stroke:0.22px #4b5679;">FourNin...</span>
<span class="t" style="left:74.50px;top:343.00px;font-size:6.5px;color:#4b5679;transform:scaleX(0.9009);-webkit-text-stroke:0.22px #4b5679;">CapturesProcessType1_INSERT</span>
<span class="t" style="left:213.90px;top:343.00px;font-size:6.5px;color:#4b5679;transform:scaleX(0.9085);-webkit-text-stroke:0.22px #4b5679;">WRITELOG</span>
<span class="t" style="left:332.68px;top:343.00px;font-size:6.5px;color:#4b5679;transform:scaleX(0.9500);-webkit-text-stroke:0.22px #4b5679;">229</span>
<span class="t" style="left:402.93px;top:343.00px;font-size:6.5px;color:#4b5679;transform:scaleX(0.9500);-webkit-text-stroke:0.22px #4b5679;">14</span>
<span class="t" style="left:434.43px;top:343.00px;font-size:6.5px;color:#4b5679;transform:scaleX(0.9500);-webkit-text-stroke:0.22px #4b5679;">52</span>
<span class="t" style="left:469.48px;top:343.00px;font-size:6.5px;color:#4b5679;transform:scaleX(0.9500);-webkit-text-stroke:0.22px #4b5679;">747</span>
<span class="t" style="left:533.26px;top:343.00px;font-size:6.5px;color:#4b5679;transform:scaleX(0.9500);-webkit-text-stroke:0.22px #4b5679;">4</span>
<span class="t" style="left:568.00px;top:343.00px;font-size:6.5px;color:#4b5679;transform:scaleX(0.9686);-webkit-text-stroke:0.22px #4b5679;">Fournines</span>
<span class="t" style="left:616.70px;top:343.00px;font-size:6.5px;color:#4b5679;transform:scaleX(0.8994);-webkit-text-stroke:0.22px #4b5679;">SRV-DES-FN</span>
<span class="t" style="left:658.30px;top:343.00px;font-size:6.5px;color:#4b5679;transform:scaleX(0.9299);-webkit-text-stroke:0.22px #4b5679;">FourNinesColle...</span>
<span class="t" style="left:45.00px;top:357.00px;font-size:6.5px;color:#4b5679;transform:scaleX(0.9108);-webkit-text-stroke:0.22px #4b5679;">FourNin...</span>
<span class="t" style="left:74.50px;top:357.00px;font-size:6.5px;color:#4b5679;transform:scaleX(0.9348);-webkit-text-stroke:0.22px #4b5679;">Servers_UPDATE_HealthCheckDateUTC</span>
<span class="t" style="left:332.68px;top:357.00px;font-size:6.5px;color:#4b5679;transform:scaleX(0.9500);-webkit-text-stroke:0.22px #4b5679;">276</span>
<span class="t" style="left:434.43px;top:357.00px;font-size:6.5px;color:#4b5679;transform:scaleX(0.9500);-webkit-text-stroke:0.22px #4b5679;">40</span>
<span class="t" style="left:476.36px;top:357.00px;font-size:6.5px;color:#4b5679;transform:scaleX(0.9500);-webkit-text-stroke:0.22px #4b5679;">5</span>
<span class="t" style="left:568.00px;top:357.00px;font-size:6.5px;color:#4b5679;transform:scaleX(0.9686);-webkit-text-stroke:0.22px #4b5679;">Fournines</span>
<span class="t" style="left:616.70px;top:357.00px;font-size:6.5px;color:#4b5679;transform:scaleX(0.8994);-webkit-text-stroke:0.22px #4b5679;">SRV-DES-FN</span>
<span class="t" style="left:658.30px;top:357.00px;font-size:6.5px;color:#4b5679;transform:scaleX(0.9299);-webkit-text-stroke:0.22px #4b5679;">FourNinesColle...</span>
<span class="t" style="left:45.00px;top:371.00px;font-size:6.5px;color:#4b5679;transform:scaleX(0.9108);-webkit-text-stroke:0.22px #4b5679;">FourNin...</span>
<span class="t" style="left:74.50px;top:371.00px;font-size:6.5px;color:#4b5679;transform:scaleX(0.9009);-webkit-text-stroke:0.22px #4b5679;">CapturesProcessType1_INSERT</span>
<span class="t" style="left:332.68px;top:371.00px;font-size:6.5px;color:#4b5679;transform:scaleX(0.9500);-webkit-text-stroke:0.22px #4b5679;">262</span>
<span class="t" style="left:406.36px;top:371.00px;font-size:6.5px;color:#4b5679;transform:scaleX(0.9500);-webkit-text-stroke:0.22px #4b5679;">7</span>
<span class="t" style="left:434.43px;top:371.00px;font-size:6.5px;color:#4b5679;transform:scaleX(0.9500);-webkit-text-stroke:0.22px #4b5679;">34</span>
<span class="t" style="left:469.48px;top:371.00px;font-size:6.5px;color:#4b5679;transform:scaleX(0.9500);-webkit-text-stroke:0.22px #4b5679;">370</span>
<span class="t" style="left:568.00px;top:371.00px;font-size:6.5px;color:#4b5679;transform:scaleX(0.9686);-webkit-text-stroke:0.22px #4b5679;">Fournines</span>
<span class="t" style="left:616.70px;top:371.00px;font-size:6.5px;color:#4b5679;transform:scaleX(0.8994);-webkit-text-stroke:0.22px #4b5679;">SRV-DES-FN</span>
<span class="t" style="left:658.30px;top:371.00px;font-size:6.5px;color:#4b5679;transform:scaleX(0.9299);-webkit-text-stroke:0.22px #4b5679;">FourNinesColle...</span>
<span class="t" style="left:45.00px;top:385.00px;font-size:6.5px;color:#4b5679;transform:scaleX(0.9108);-webkit-text-stroke:0.22px #4b5679;">FourNin...</span>
<span class="t" style="left:74.50px;top:385.00px;font-size:6.5px;color:#4b5679;transform:scaleX(0.9009);-webkit-text-stroke:0.22px #4b5679;">CapturesProcessType1_INSERT</span>
<span class="t" style="left:336.13px;top:385.00px;font-size:6.5px;color:#4b5679;transform:scaleX(0.9500);-webkit-text-stroke:0.22px #4b5679;">64</span>
<span class="t" style="left:406.36px;top:385.00px;font-size:6.5px;color:#4b5679;transform:scaleX(0.9500);-webkit-text-stroke:0.22px #4b5679;">3</span>
<span class="t" style="left:434.43px;top:385.00px;font-size:6.5px;color:#4b5679;transform:scaleX(0.9500);-webkit-text-stroke:0.22px #4b5679;">26</span>
<span class="t" style="left:469.48px;top:385.00px;font-size:6.5px;color:#4b5679;transform:scaleX(0.9500);-webkit-text-stroke:0.22px #4b5679;">156</span>
<span class="t" style="left:568.00px;top:385.00px;font-size:6.5px;color:#4b5679;transform:scaleX(0.9686);-webkit-text-stroke:0.22px #4b5679;">Fournines</span>
<span class="t" style="left:616.70px;top:385.00px;font-size:6.5px;color:#4b5679;transform:scaleX(0.8994);-webkit-text-stroke:0.22px #4b5679;">SRV-DES-FN</span>
<span class="t" style="left:658.30px;top:385.00px;font-size:6.5px;color:#4b5679;transform:scaleX(0.9299);-webkit-text-stroke:0.22px #4b5679;">FourNinesColle...</span>
<span class="t" style="left:45.00px;top:399.00px;font-size:6.5px;color:#4b5679;transform:scaleX(0.9108);-webkit-text-stroke:0.22px #4b5679;">FourNin...</span>
<span class="t" style="left:74.50px;top:399.00px;font-size:6.5px;color:#4b5679;transform:scaleX(0.9009);-webkit-text-stroke:0.22px #4b5679;">CapturesProcessType1_INSERT</span>
<span class="t" style="left:332.68px;top:399.00px;font-size:6.5px;color:#4b5679;transform:scaleX(0.9500);-webkit-text-stroke:0.22px #4b5679;">103</span>
<span class="t" style="left:406.36px;top:399.00px;font-size:6.5px;color:#4b5679;transform:scaleX(0.9500);-webkit-text-stroke:0.22px #4b5679;">7</span>
<span class="t" style="left:434.43px;top:399.00px;font-size:6.5px;color:#4b5679;transform:scaleX(0.9500);-webkit-text-stroke:0.22px #4b5679;">25</span>
<span class="t" style="left:469.48px;top:399.00px;font-size:6.5px;color:#4b5679;transform:scaleX(0.9500);-webkit-text-stroke:0.22px #4b5679;">352</span>
<span class="t" style="left:568.00px;top:399.00px;font-size:6.5px;color:#4b5679;transform:scaleX(0.9686);-webkit-text-stroke:0.22px #4b5679;">Fournines</span>
<span class="t" style="left:616.70px;top:399.00px;font-size:6.5px;color:#4b5679;transform:scaleX(0.8994);-webkit-text-stroke:0.22px #4b5679;">SRV-DES-FN</span>
<span class="t" style="left:658.30px;top:399.00px;font-size:6.5px;color:#4b5679;transform:scaleX(0.9299);-webkit-text-stroke:0.22px #4b5679;">FourNinesColle...</span>
<span class="t" style="left:45.00px;top:413.00px;font-size:6.5px;color:#4b5679;transform:scaleX(0.9459);-webkit-text-stroke:0.22px #4b5679;">master</span>
<span class="t" style="left:74.50px;top:413.00px;font-size:6.5px;color:#4b5679;transform:scaleX(0.9245);-webkit-text-stroke:0.22px #4b5679;">SELECT ContextInfo, query_hash AS QueryHas...</span>
<span class="t" style="left:332.68px;top:413.00px;font-size:6.5px;color:#4b5679;transform:scaleX(0.9500);-webkit-text-stroke:0.22px #4b5679;">275</span>
<span class="t" style="left:406.36px;top:413.00px;font-size:6.5px;color:#4b5679;transform:scaleX(0.9500);-webkit-text-stroke:0.22px #4b5679;">2</span>
<span class="t" style="left:437.86px;top:413.00px;font-size:6.5px;color:#4b5679;transform:scaleX(0.9500);-webkit-text-stroke:0.22px #4b5679;">2</span>
<span class="t" style="left:469.48px;top:413.00px;font-size:6.5px;color:#4b5679;transform:scaleX(0.9500);-webkit-text-stroke:0.22px #4b5679;">173</span>
<span class="t" style="left:551.98px;top:413.00px;font-size:6.5px;color:#4b5679;transform:scaleX(0.9500);-webkit-text-stroke:0.22px #4b5679;">0,13</span>
<span class="t" style="left:568.00px;top:413.00px;font-size:6.5px;color:#4b5679;transform:scaleX(0.9686);-webkit-text-stroke:0.22px #4b5679;">Fournines</span>
<span class="t" style="left:616.70px;top:413.00px;font-size:6.5px;color:#4b5679;transform:scaleX(0.8994);-webkit-text-stroke:0.22px #4b5679;">SRV-DES-FN</span>
<span class="t" style="left:658.30px;top:413.00px;font-size:6.5px;color:#4b5679;transform:scaleX(0.9299);-webkit-text-stroke:0.22px #4b5679;">FourNinesColle...</span>
<span class="t" style="left:32.65px;top:506.00px;font-size:6.2px;color:#262d3f;transform:scaleX(0.9218);-webkit-text-stroke:0.18px #262d3f;">TRANSACTIONS/SEC</span>
<span class="t" style="left:55.35px;top:513.00px;font-size:7.2px;color:#151a26;font-weight:700;transform:scaleX(1.0500);">563</span>
<span class="t" style="left:124.01px;top:506.00px;font-size:6.2px;color:#262d3f;transform:scaleX(0.9191);-webkit-text-stroke:0.18px #262d3f;">BATCH REQUESTS/SEC</span>
<span class="t" style="left:150.21px;top:513.00px;font-size:7.2px;color:#151a26;font-weight:700;transform:scaleX(1.0500);">303</span>
<span class="t" style="left:233.12px;top:506.00px;font-size:6.2px;color:#262d3f;transform:scaleX(0.9621);-webkit-text-stroke:0.18px #262d3f;">LOCK WAITS</span>
<span class="t" style="left:247.07px;top:513.00px;font-size:7.2px;color:#151a26;font-weight:700;transform:scaleX(1.0750);">34</span>
<span class="t" style="left:305.23px;top:506.00px;font-size:6.2px;color:#262d3f;transform:scaleX(0.9427);-webkit-text-stroke:0.18px #262d3f;">MEMORY GRANT QUEUE W...</span>
<span class="t" style="left:344.13px;top:513.00px;font-size:7.2px;color:#151a26;font-weight:700;transform:scaleX(1.0500);">0</span>
<span class="t" style="left:414.59px;top:506.00px;font-size:6.2px;color:#262d3f;transform:scaleX(0.9496);-webkit-text-stroke:0.18px #262d3f;">LOG WRITE WAITS</span>
<span class="t" style="left:438.99px;top:513.00px;font-size:7.2px;color:#151a26;font-weight:700;transform:scaleX(1.0500);">8</span>
<span class="t" style="left:507.45px;top:506.00px;font-size:6.2px;color:#262d3f;transform:scaleX(0.9402);-webkit-text-stroke:0.18px #262d3f;">LOG BUFFER WAITS</span>
<span class="t" style="left:533.85px;top:513.00px;font-size:7.2px;color:#151a26;font-weight:700;transform:scaleX(1.0500);">0</span>
<span class="t" style="left:601.56px;top:506.00px;font-size:6.2px;color:#262d3f;transform:scaleX(0.9595);-webkit-text-stroke:0.18px #262d3f;">NETWORK IO WAITS</span>
<span class="t" style="left:628.71px;top:513.00px;font-size:7.2px;color:#151a26;font-weight:700;transform:scaleX(1.0500);">0</span>
<span class="t" style="left:693.67px;top:506.00px;font-size:6.2px;color:#262d3f;transform:scaleX(0.9464);-webkit-text-stroke:0.18px #262d3f;">PAGE IO LATCH WAITS</span>
<span class="t" style="left:723.57px;top:513.00px;font-size:7.2px;color:#151a26;font-weight:700;transform:scaleX(1.0500);">0</span>
<span class="t" style="left:33.65px;top:531.00px;font-size:6.2px;color:#262d3f;transform:scaleX(0.9434);-webkit-text-stroke:0.18px #262d3f;">PAGE LATCH WAITS</span>
<span class="t" style="left:60.25px;top:538.00px;font-size:7.2px;color:#151a26;font-weight:700;transform:scaleX(0.7000);">1</span>
<span class="t" style="left:120.26px;top:531.00px;font-size:6.2px;color:#262d3f;transform:scaleX(0.9645);-webkit-text-stroke:0.18px #262d3f;">NON-PAGE LATCH WAITS</span>
<span class="t" style="left:154.41px;top:538.00px;font-size:7.2px;color:#151a26;font-weight:700;transform:scaleX(1.0500);">0</span>
<span class="t" style="left:216.37px;top:531.00px;font-size:6.2px;color:#262d3f;transform:scaleX(0.9530);-webkit-text-stroke:0.18px #262d3f;">WAIT FOR THE WORKER</span>
<span class="t" style="left:249.27px;top:538.00px;font-size:7.2px;color:#151a26;font-weight:700;transform:scaleX(1.0500);">0</span>
<span class="t" style="left:324.23px;top:531.00px;font-size:6.2px;color:#262d3f;transform:scaleX(0.9501);-webkit-text-stroke:0.18px #262d3f;">OBJECT PLANS</span>
<span class="t" style="left:339.93px;top:538.00px;font-size:7.2px;color:#151a26;font-weight:700;transform:scaleX(1.0500);">222</span>
<span class="t" style="left:424.84px;top:531.00px;font-size:6.2px;color:#262d3f;transform:scaleX(0.9511);-webkit-text-stroke:0.18px #262d3f;">SQL PLANS</span>
<span class="t" style="left:429.09px;top:538.00px;font-size:7.2px;color:#151a26;font-weight:700;transform:scaleX(1.0917);">13.372</span>
<span class="t" style="left:505.45px;top:531.00px;font-size:6.2px;color:#262d3f;transform:scaleX(0.9437);-webkit-text-stroke:0.18px #262d3f;">USER CONNECTIONS</span>
<span class="t" style="left:529.65px;top:538.00px;font-size:7.2px;color:#151a26;font-weight:700;transform:scaleX(1.0500);">256</span>
<span class="t" style="left:607.56px;top:531.00px;font-size:6.2px;color:#262d3f;transform:scaleX(0.9262);-webkit-text-stroke:0.18px #262d3f;">OPEN CURSORS</span>
<span class="t" style="left:628.71px;top:538.00px;font-size:7.2px;color:#151a26;font-weight:700;transform:scaleX(1.0500);">0</span>
<span class="t" style="left:704.67px;top:531.00px;font-size:6.2px;color:#262d3f;transform:scaleX(0.9205);-webkit-text-stroke:0.18px #262d3f;">PAGE SPLITS/S</span>
<span class="t" style="left:721.37px;top:538.00px;font-size:7.2px;color:#151a26;font-weight:700;transform:scaleX(1.0750);">27</span>
<span class="t" style="left:778.70px;top:149.00px;font-size:7.2px;color:#1b2440;font-weight:700;transform:scaleX(1.0111);">14:40:49</span>
<span class="t" style="left:784.50px;top:165.00px;font-size:7.6px;color:#ffffff;font-weight:700;opacity:0.88;transform:scaleX(0.9605);">Deadlocks</span>
<span class="t" style="left:879.00px;top:164.00px;font-size:9.6px;color:#ffffff;font-weight:700;transform:scaleX(1.3474);">0</span>
<span class="t" style="left:784.50px;top:187.00px;font-size:7.6px;color:#ffffff;font-weight:700;opacity:0.88;transform:scaleX(0.9092);">Error logs</span>
<span class="t" style="left:879.00px;top:186.00px;font-size:9.6px;color:#ffffff;font-weight:700;transform:scaleX(1.3474);">0</span>
<span class="t" style="left:784.50px;top:209.00px;font-size:7.6px;color:#ffffff;font-weight:700;opacity:0.88;transform:scaleX(0.9547);">Incidencias</span>
<span class="t" style="left:879.00px;top:208.00px;font-size:9.6px;color:#ffffff;font-weight:700;transform:scaleX(1.3474);">0</span>
<span class="t" style="left:784.50px;top:231.00px;font-size:6.2px;color:#ffffff;font-weight:700;opacity:0.85;transform:scaleX(0.9239);">RECOMPILACIONES REALES</span>
<span class="t" style="left:880.00px;top:230.00px;font-size:9px;color:#ffffff;font-weight:700;transform:scaleX(1.2361);">0</span>
<span class="t" style="left:784.50px;top:248.00px;font-size:6.2px;color:#ffffff;font-weight:700;opacity:0.85;transform:scaleX(0.9366);">RECOMPILACIONES</span>
<span class="t" style="left:882.30px;top:247.00px;font-size:9px;color:#ffffff;font-weight:700;transform:scaleX(0.7776);">1</span>
<span class="t" style="left:795.70px;top:271.00px;font-size:9.5px;color:#ffffff;font-weight:700;transform:scaleX(1.2083);">0</span>
<span class="t" style="left:786.65px;top:282.00px;font-size:7px;color:#ffffff;font-weight:700;opacity:0.85;transform:scaleX(0.9590);">Total IO</span>
<span class="t" style="left:832.10px;top:271.00px;font-size:9.5px;color:#ffffff;font-weight:700;transform:scaleX(1.2083);">0</span>
<span class="t" style="left:825.80px;top:282.00px;font-size:7px;color:#ffffff;font-weight:700;opacity:0.85;transform:scaleX(0.9041);">Reads</span>
<span class="t" style="left:868.60px;top:271.00px;font-size:9.5px;color:#ffffff;font-weight:700;transform:scaleX(1.2083);">0</span>
<span class="t" style="left:861.80px;top:282.00px;font-size:7px;color:#ffffff;font-weight:700;opacity:0.85;transform:scaleX(0.9398);">Writes</span>
<span class="t" style="left:782.50px;top:312.00px;font-size:7px;color:#161b28;font-weight:700;transform:scaleX(0.8520);">FourNines</span>
<span class="t" style="left:834.00px;top:311.00px;font-size:9.8px;color:#161b28;font-weight:700;transform:scaleX(1.1370);">0</span>
<span class="t" style="left:842.00px;top:314.00px;font-size:5.6px;color:#84928f;transform:scaleX(0.9453);-webkit-text-stroke:0;">total</span>
<span class="t" style="left:870.30px;top:310.00px;font-size:5.6px;color:#161b28;font-weight:700;transform:scaleX(0.8640);">0</span>
<span class="t" style="left:874.30px;top:310.00px;font-size:5.6px;color:#869398;transform:scaleX(0.8154);-webkit-text-stroke:0;">R</span>
<span class="t" style="left:870.30px;top:317.00px;font-size:5.6px;color:#161b28;font-weight:700;transform:scaleX(0.8640);">0</span>
<span class="t" style="left:874.30px;top:317.00px;font-size:5.6px;color:#869398;transform:scaleX(0.9467);-webkit-text-stroke:0;">W</span>
<span class="t" style="left:786.00px;top:442.00px;font-size:8px;color:#3b4664;transform:scaleX(0.8303);-webkit-text-stroke:0.22px #3b4664;">C</span>
<span class="t" style="left:795.00px;top:439.00px;font-size:7px;color:#1b2440;font-weight:700;transform:scaleX(1.0275);">4,22</span>
<span class="t" style="left:795.00px;top:451.00px;font-size:6.2px;color:#3b4664;transform:scaleX(0.8578);-webkit-text-stroke:0.22px #3b4664;">1,22GB</span>
</div></body></html>
